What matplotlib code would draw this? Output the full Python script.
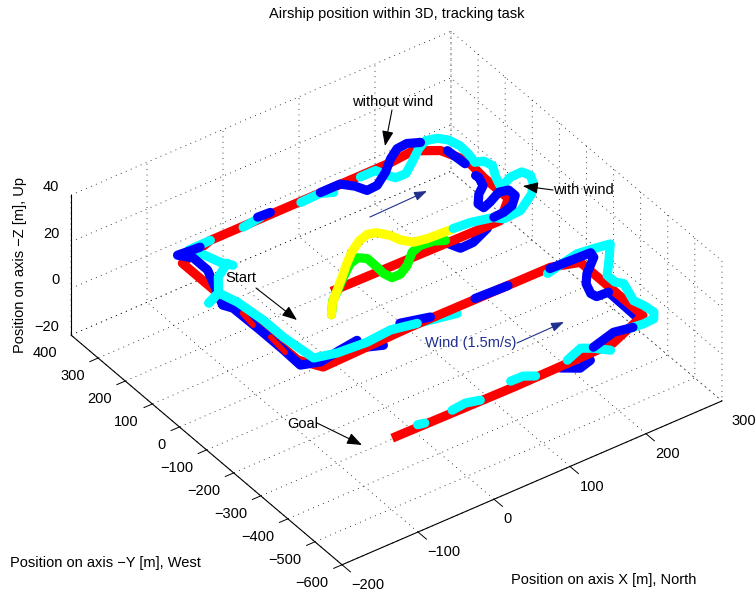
# airship position in 3D, tracking task
import matplotlib
matplotlib.use('Agg')
import matplotlib.pyplot as plt

plt.rcParams['font.family'] = ['Liberation Sans', 'DejaVu Sans']
plt.rcParams['font.size'] = 10.5
plt.rcParams['grid.color'] = 'black'
plt.rcParams['grid.linewidth'] = 0.6
plt.rcParams['grid.linestyle'] = (0, (1, 5.5))
plt.rcParams['axes.linewidth'] = 0.8

# axes
x_ticks = [-200, -100, 0, 100, 200, 300]
y_ticks = [-600, -500, -400, -300, -200, -100, 0, 100, 200, 300, 400]
z_ticks = [-20, 0, 20, 40]
height = 10  # cruising altitude

# reference run
red_x = [0, 220, 250, 250, 253, 240, 216, 184, -53, -101, -101, -100, -100, -85, 32, 216, 247, 247, 192, 60, -98]
red_y = [0, -6, 48, 139, 208, 271, 304, 298, 298, 267, 137, 18, -156, -208, -201, -203, -226, -457, -500, -503, -499]
red_top_x = [[-100, -103], [-100, -103]]
red_top_y = [[48, 0], [-56, -118]]

# take-off parts
green_x = [0, 1, 9, 25, 45, 58, 65, 65, 64, 67, 78, 93, 111, 125, 141, 152]
green_y = [0, -2, -1, 26, 57, 64, 50, 21, -13, -36, -36, -19, 13, 22, 18, 5]
green_z = [0, 6, 10, 10, 10, 10, 10, 10, 10, 10, 10, 10, 10, 10, 10, 10]
yellow_x = [0, 1, 6, 24, 42, 58, 76, 90, 100, 109, 113, 122, 138, 154, 171]
yellow_y = [0, -1, -4, 28, 61, 88, 111, 120, 113, 88, 63, 40, 33, 31, 29]
yellow_z = [0, 5, 10, 10, 10, 10, 10, 10, 10, 10, 10, 10, 10, 10, 10]

# pieces that show from under the red line
blue_under_x = [[151, 157, 174, 201], [-26, -10], [155, 138, 121], [241, 240]]
blue_under_y = [[-7, -36, -35, -12], [-205, -220], [-521, -531, -506], [-347, -457]]
cyan_under_x = [[-21, 12, 42, 87]]
cyan_under_y = [[-191, -185, -199, -220]]

# pieces on top of the red line
cyan_x = [
    [171, 192, 217, 225, 248, 275, 287, 293, 289, 274, 255, 261, 270, 267, 258, 261, 262, 258, 250, 237, 223, 203,
     186, 173, 167, 163, 143],
    [104, 91, 65],
    [14, -11],
    [-53, -82, -75, -67, -59],
    [207, 230, 253, 273, 292, 274, 257, 257, 263, 254, 258, 260, 253, 239, 221],
    [183, 170, 159, 135],
    [91, 80, 64],
    [18, 2, -17],
    [-54, -62],
]
cyan_y = [
    [30, 26, 12, -5, -2, 32, 59, 87, 108, 107, 90, 125, 163, 186, 194, 226, 260, 291, 310, 318, 303, 272,
     247, 248, 270, 294, 294],
    [283, 297, 295],
    [302, 295],
    [298, 297, 273, 222, 198],
    [-217, -207, -197, -203, -210, -256, -297, -326, -341, -403, -429, -461, -480, -482, -477],
    [-517, -490, -474, -492],
    [-498, -483, -482],
    [-499, -489, -493],
    [-496, -492],
]
cyan_front_x = [
    [-62, -84, -100, -119],
    [-119, -100, -93, -89, -89, -84, -58, -21, 12, 42],
]
cyan_front_y = [
    [211, 182, 136, 119],
    [119, 136, 86, 2, -72, -170, -185, -191, -185, -199],
]
blue_x = [
    [218, 232, 246, 259, 259, 248, 230, 219, 218, 229, 241, 246, 245],
    [248, 246],
    [231, 218, 204, 188, 170, 149, 135, 129, 118, 92],
    [28, 12],
    [-69, -97, -86, -86, -97, -109, -103, -102, -102, -103, -82, -53, -28],
    [27, 60],
    [118, 160],
    [214, 266, 264, 241, 230, 224, 226, 241],
    [226, 204, 171],
]
blue_y = [
    [12, 14, 23, 48, 72, 78, 60, 52, 70, 98, 116, 146, 155],
    [202, 262],
    [319, 333, 330, 309, 277, 249, 247, 274, 299, 299],
    [304, 306],
    [291, 296, 268, 216, 157, 96, 74, -23, -109, -174, -190, -180, -173],
    [-177, -197],
    [-199, -203],
    [-206, -211, -228, -267, -295, -329, -345, -347],
    [-479, -469, -487],
]

fig = plt.figure(figsize=(7.56, 5.93), dpi=100)
ax = fig.add_axes([88.4 / 756, -13.1 / 593, 600 / 756, 600 / 593], projection='3d', proj_type='ortho')
ax.computed_zorder = False
ax.patch.set_visible(False)
ax.view_init(elev=37.2, azim=234.5)
ax.set_box_aspect((1, 1, 0.3767), zoom=1.105)

ax.set_xlim(-200, 300)
ax.set_ylim(-600, 400)
ax.set_zlim(-20, 40)
ax.set_xticks(x_ticks)
ax.set_yticks(y_ticks)
ax.set_zticks(z_ticks)

for axis, pad in zip((ax.xaxis, ax.yaxis, ax.zaxis), (0, 0, -4)):
    axis.set_pane_color((1, 1, 1, 0))
    axis.pane.set_edgecolor('none')
    axis._axinfo['tick']['inward_factor'] = 0
    axis._axinfo['tick']['outward_factor'] = 0
    axis.set_tick_params(pad=pad, labelsize=10.5)

for lab in ax.get_xticklabels():
    lab.set_ha('left')
for lab in ax.get_yticklabels():
    lab.set_ha('right')
for lab in ax.get_zticklabels():
    lab.set_ha('right')
    lab.set_va('bottom')

# outward tick marks
for t in x_ticks:
    ax.plot([t, t], [-600, -631], [-20, -20], color='black', lw=0.7, zorder=1)
for t in y_ticks:
    ax.plot([-200, -211], [t, t], [-20, -20], color='black', lw=0.7, zorder=1)
for t in z_ticks:
    ax.plot([-200, -200], [400, 426], [t, t], color='black', lw=0.7, zorder=1)

width = 6.6

def draw(xs, ys, color, order, zs=None, lw=width):
    if zs is None:
        zs = [height] * len(xs)
    ax.plot(xs, ys, zs, color=color, lw=lw, zorder=order,
            solid_capstyle='round', solid_joinstyle='round')

for xs, ys in zip(blue_under_x, blue_under_y):
    draw(xs, ys, '#0000ff', 2)
for xs, ys in zip(cyan_under_x, cyan_under_y):
    draw(xs, ys, '#00ffff', 2)

ax.plot(red_x, red_y, [height] * len(red_x), color='#ff0000', lw=width, zorder=3,
        solid_capstyle='butt', solid_joinstyle='round')

draw(green_x, green_y, '#00ff00', 4, green_z)
draw(yellow_x, yellow_y, '#ffff00', 5, yellow_z)

for xs, ys in zip(cyan_x, cyan_y):
    draw(xs, ys, '#00ffff', 6)
for xs, ys in zip(blue_x, blue_y):
    draw(xs, ys, '#0000ff', 7)
for xs, ys in zip(red_top_x, red_top_y):
    draw(xs, ys, '#ff0000', 7.5, lw=4)
for xs, ys in zip(cyan_front_x, cyan_front_y):
    draw(xs, ys, '#00ffff', 8)

# texts, placed in pixels of the figure
def px(x, y):
    return (x, 593 - y)

fig.text(397 / 756, 1 - 14 / 593, 'Airship position within 3D, tracking task', ha='center', va='center')
fig.text(511 / 756, 1 - 580 / 593, 'Position on axis X [m], North', ha='left', va='center')
fig.text(10 / 756, 1 - 563 / 593, 'Position on axis \u2212Y [m], West', ha='left', va='center')
fig.text(20 / 756, 1 - 265 / 593, 'Position on axis \u2212Z [m], Up', rotation=90, ha='center', va='center')

black_notes = [
    ('Start', (225, 278), (256, 288), (297, 320)),
    ('without wind', (352, 102), (392, 110), (385, 146)),
    ('with wind', (553, 190), (553, 190), (523, 186)),
    ('Goal', (287, 424), (317, 423), (362, 445)),
]
navy = '#1f2f8f'
for label, pos, start, end in black_notes:
    fig.text(pos[0] / 756, 1 - pos[1] / 593, label, ha='left', va='center')
    ax.annotate('', xy=px(*end), xytext=px(*start), xycoords='figure pixels', textcoords='figure pixels',
                arrowprops=dict(arrowstyle='-|>,head_length=0.65,head_width=0.25', color='black', lw=0.8,
                                shrinkA=0, shrinkB=0, mutation_scale=14), zorder=10)

fig.text(425 / 756, 1 - 343 / 593, 'Wind (1.5m/s)', color=navy, ha='left', va='center')
for start, end in [((517, 343), (564, 322)), ((370, 217), (427, 191))]:
    ax.annotate('', xy=px(*end), xytext=px(*start), xycoords='figure pixels', textcoords='figure pixels',
                arrowprops=dict(arrowstyle='-|>,head_length=0.55,head_width=0.2', color=navy, lw=0.8,
                                shrinkA=0, shrinkB=0, mutation_scale=14), zorder=10)

fig.savefig('out.png', dpi=100)
